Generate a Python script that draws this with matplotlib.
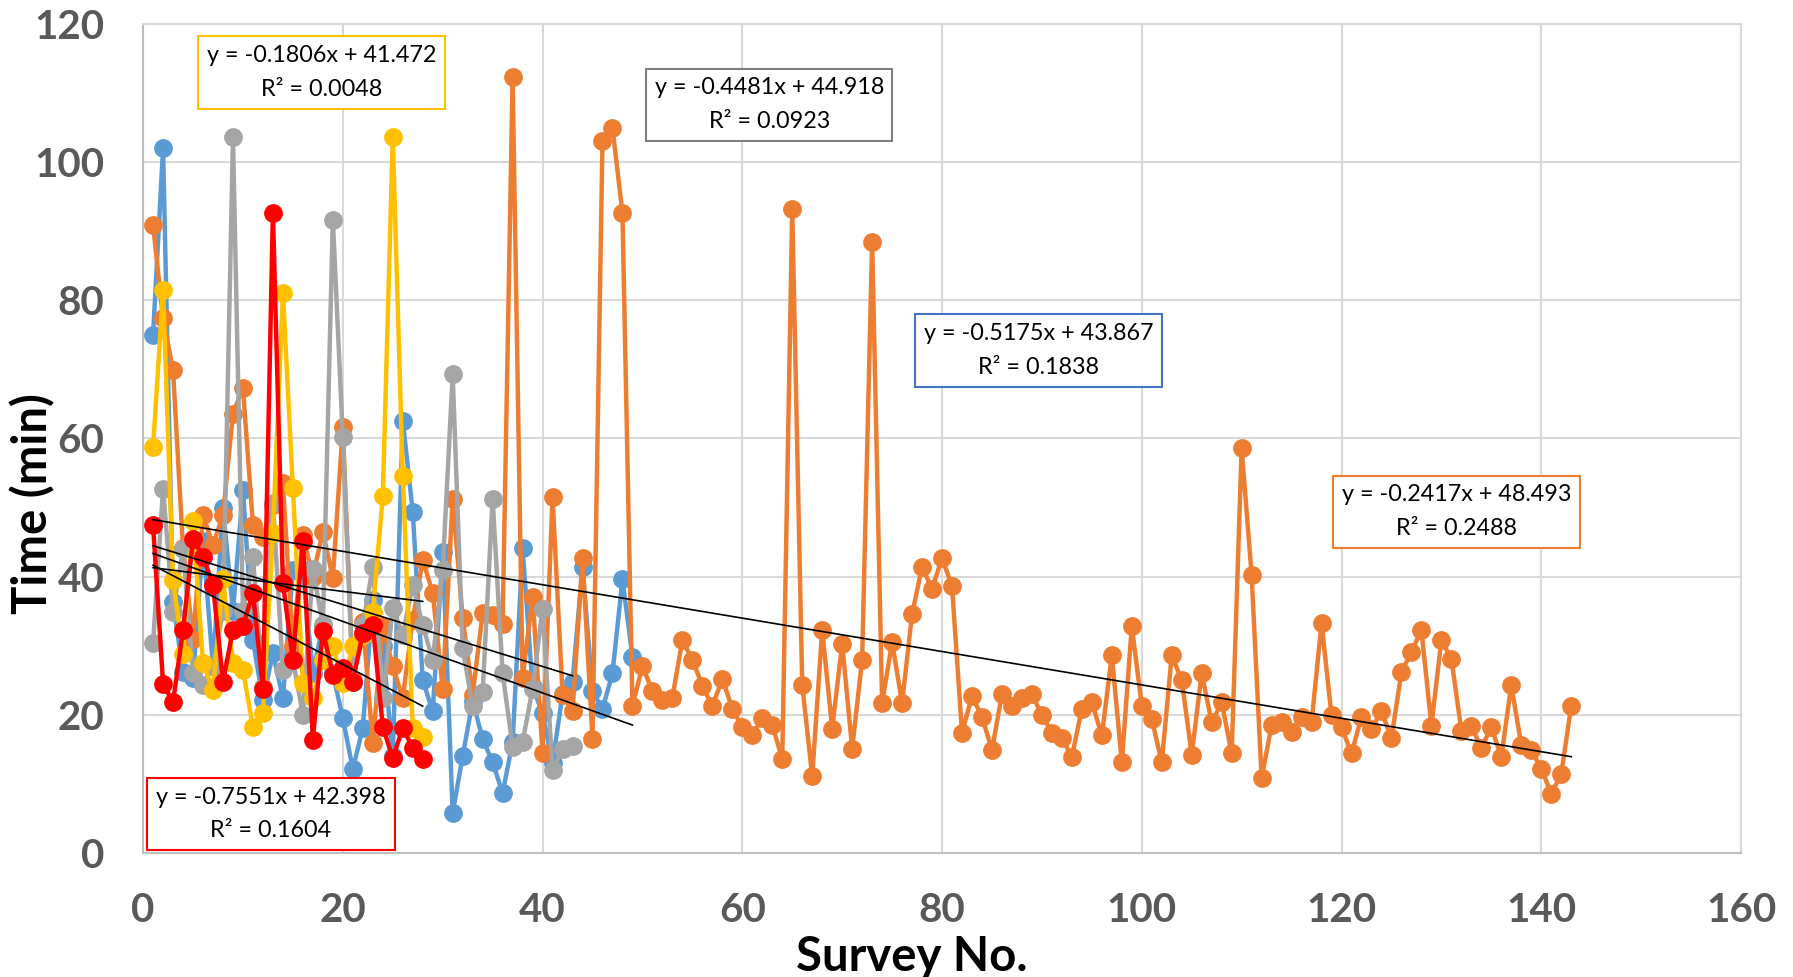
import matplotlib.pyplot as plt
import numpy as np
from matplotlib.patches import Rectangle

# survey times (min), one list per group, surveys numbered 1..N
blue = [75, 102, 36.3, 26.2, 25.3, 45.1, 27, 49.9, 35, 52.5, 30.8, 22.1, 28.9, 22.4, 41, 41, 26, 33,
        26, 19.5, 12.1, 18.1, 36.6, 30, 14, 62.6, 49.4, 25, 20.5, 43.6, 5.8, 14, 22, 16.5, 13.1, 8.7,
        16, 44.1, 24, 20.2, 13, 23, 24.8, 41.4, 23.4, 20.8, 26, 39.6, 28.4]
orange = [90.9, 77.4, 69.9, 44.1, 31, 48.9, 44.6, 48.9, 63.6, 67.3, 47.5, 45.8, 50.4, 53.5, 30, 46,
          40, 46.5, 39.8, 61.6, 25, 33.5, 15.9, 32.8, 27, 22.4, 33.7, 42.4, 37.7, 23.7, 51.3, 34,
          22.9, 34.7, 34.5, 33.2, 112.3, 25.3, 37.1, 14.5, 51.5, 22.9, 20.5, 42.7, 16.5, 103, 105,
          92.6, 21.3, 27, 23.5, 22.2, 22.5, 30.8, 28, 24.2, 21.2, 25.2, 20.9, 18.2, 17.0, 19.5, 18.5,
          13.6, 93.2, 24.3, 11.1, 32.3, 18, 30.3, 15.1, 28, 88.5, 21.7, 30.5, 21.7, 34.6, 41.4, 38.2,
          42.7, 38.6, 17.4, 22.7, 19.7, 14.9, 23, 21.3, 22.5, 23, 19.9, 17.4, 16.7, 13.9, 20.9, 21.8,
          17, 28.6, 13.1, 32.8, 21.3, 19.4, 13.1, 28.6, 25, 14.2, 26, 18.9, 21.8, 14.4, 58.6, 40.2,
          10.8, 18.5, 18.9, 17.5, 19.7, 18.9, 33.3, 19.9, 18.2, 14.4, 19.7, 18, 20.5, 16.6, 26.2,
          29.1, 32.3, 18.4, 30.8, 28.1, 17.7, 18.4, 15.2, 18.2, 13.9, 24.3, 15.6, 14.9, 12.2, 8.6,
          11.4, 21.3]
gray = [30.4, 52.7, 34.9, 44, 26, 24.3, 27, 35, 103.6, 35, 42.9, 24, 50.6, 26.5, 28, 20, 41.1, 33,
        91.7, 60.2, 24.8, 33, 41.4, 22.4, 35.4, 31.6, 38.8, 33, 27.9, 41, 69.3, 29.6, 21.3, 23.3,
        51.3, 26, 15.4, 16, 23.8, 35.3, 12, 15, 15.5]
yellow = [58.7, 81.5, 39.5, 28.8, 48, 27.5, 23.6, 39.6, 27.5, 26.5, 18.2, 20.2, 46.3, 81.1, 52.8,
          24.6, 22.4, 27.9, 29.9, 24.6, 29.9, 31.5, 34.9, 51.6, 103.6, 54.6, 18.1, 16.8]
red = [47.5, 24.5, 21.8, 32.3, 45.4, 42.9, 38.8, 24.8, 32.3, 32.8, 37.7, 23.8, 92.7, 39.1, 27.9,
       45.2, 16.4, 32.2, 25.8, 26.7, 24.8, 31.8, 33, 18.3, 13.7, 18.1, 15.2, 13.6]

# trendline equations as printed on the chart: slope, intercept, R²
slopes = [-0.5175, -0.2417, -0.4481, -0.1806, -0.7551]
intercepts = [43.867, 48.493, 44.918, 41.472, 42.398]
r2 = ['0.1838', '0.2488', '0.0923', '0.0048', '0.1604']

series = [blue, orange, gray, yellow, red]
colors = ['#5B9BD5', '#ED7D31', '#A5A5A5', '#FFC000', '#FF0000']
box_edges = ['#4472C4', '#ED7D31', '#7F7F7F', '#FFC000', '#FF0000']
# label box corners (x0, y0, x1, y1) in data units
boxes = [(77.3, 67.5, 102.0, 78.0), (119.1, 44.2, 143.9, 54.6), (50.4, 103.1, 75.0, 113.5),
         (5.5, 107.7, 30.2, 118.2), (0.35, 0.4, 25.2, 10.9)]

plt.rcParams['font.family'] = ['Lato', 'DejaVu Sans']

fig = plt.figure(figsize=(17.93, 9.77), dpi=100)
ax = fig.add_axes([0.0798, 0.127, 0.8912, 0.8484])

for i, (vals, c) in enumerate(zip(series, colors)):
    x = np.arange(1, len(vals) + 1)
    ax.plot(x, vals, color=c, lw=3.2, marker='o', ms=12.5, zorder=2 + i)

for vals, m, b in zip(series, slopes, intercepts):
    x = np.array([1, len(vals)])
    ax.plot(x, m * x + b, color='black', lw=1.2, zorder=10)

for (x0, y0, x1, y1), ec, m, b, r in zip(boxes, box_edges, slopes, intercepts, r2):
    ax.add_patch(Rectangle((x0, y0), x1 - x0, y1 - y0, facecolor='white', edgecolor=ec,
                           lw=1.5, zorder=11))
    ax.text((x0 + x1) / 2, (y0 + y1) / 2, 'y = %.4fx + %.3f\nR² = %s' % (m, b, r),
            ha='center', va='center', fontsize=16.8, linespacing=1.75, zorder=12)

ax.set_xlim(0, 160)
ax.set_ylim(0, 120)
ax.set_xticks(range(0, 161, 20))
ax.set_yticks(range(0, 121, 20))
ax.grid(True, color='#D9D9D9', lw=1.5)
ax.set_axisbelow(True)
for s in ax.spines.values():
    s.set_color('#D9D9D9')
    s.set_linewidth(1.5)
ax.spines['left'].set_color('#BFBFBF')
ax.spines['bottom'].set_color('#BFBFBF')
ax.tick_params(length=0, labelsize=29, labelcolor='#595959', pad=28)
for t in ax.get_xticklabels() + ax.get_yticklabels():
    t.set_fontweight('bold')

ax.set_xlabel('Survey No.', fontsize=34, fontweight='bold')
ax.set_ylabel('Time (min)', fontsize=34, fontweight='bold')
ax.xaxis.set_label_coords(0.481, -0.099)
ax.yaxis.set_label_coords(-0.055, 0.422)

fig.savefig('out.png', dpi=100)
